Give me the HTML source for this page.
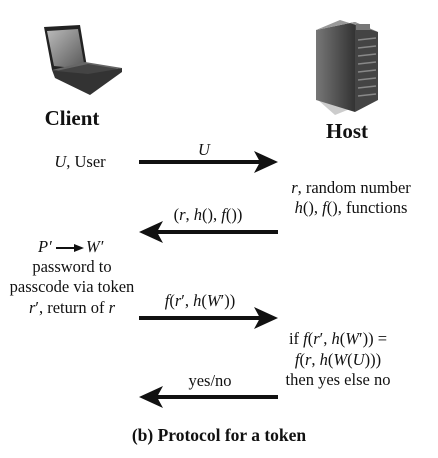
<!DOCTYPE html>
<html><head><meta charset="utf-8"><style>
html,body{margin:0;padding:0;background:#fff;}
svg{display:block;font-family:"Liberation Serif",serif;}
</style></head><body>
<svg width="438" height="458" viewBox="0 0 438 458" xmlns="http://www.w3.org/2000/svg">
<defs>
<linearGradient id="scr" x1="0" y1="0" x2="1" y2="1"><stop offset="0" stop-color="#bbb"/><stop offset="1" stop-color="#555"/></linearGradient>
<linearGradient id="srv" x1="0" y1="0" x2="1" y2="0"><stop offset="0" stop-color="#777"/><stop offset="1" stop-color="#333"/></linearGradient>
</defs>
<!-- laptop -->
<polygon points="44,27 80,25 88,73 52,70" fill="#222"/>
<polygon points="47,31 78,29 85,69 54,66" fill="url(#scr)"/>
<polygon points="52,70 88,73 122,68 85,62" fill="#666"/>
<polygon points="52,70 88,73 122,68 122,72 90,95 55,78" fill="#333"/>
<polygon points="56,71 88,74 118,69 88,64" fill="#444"/>
<!-- server -->
<polygon points="318,100 335,115 377,98 360,90" fill="#ccc"/>
<polygon points="316,30 355,22 355,112 316,100" fill="url(#srv)"/>
<polygon points="355,22 378,32 378,100 355,112" fill="#444"/>
<polygon points="316,30 340,20 378,32 355,22" fill="#999"/>
<g stroke="#888" stroke-width="1.5">
<line x1="358" y1="40" x2="376" y2="38"/><line x1="358" y1="48" x2="376" y2="46"/><line x1="358" y1="56" x2="376" y2="54"/><line x1="358" y1="64" x2="376" y2="62"/><line x1="358" y1="72" x2="376" y2="70"/><line x1="358" y1="80" x2="376" y2="78"/><line x1="358" y1="88" x2="376" y2="86"/><line x1="358" y1="96" x2="376" y2="94"/>
</g>
<rect x="356" y="24" width="14" height="6" fill="#777"/>
<!-- labels -->
<g font-weight="bold" font-size="21" text-anchor="middle" fill="#111">
<text x="72" y="125">Client</text>
<text x="347" y="138">Host</text>
</g>
<g font-size="16.5" fill="#111" text-anchor="middle">
<text x="80" y="167"><tspan font-style="italic">U</tspan>, User</text>
<text x="204" y="155" font-style="italic">U</text>
<text x="351" y="193"><tspan font-style="italic">r</tspan>, random number</text>
<text x="351" y="213"><tspan font-style="italic">h</tspan>(), <tspan font-style="italic">f</tspan>(), functions</text>
<text x="208" y="220">(<tspan font-style="italic">r</tspan>, <tspan font-style="italic">h</tspan>(), <tspan font-style="italic">f</tspan>())</text>
<text x="72" y="272">password to</text>
<text x="72" y="292">passcode via token</text>
<text x="72" y="313"><tspan font-style="italic">r</tspan>′, return of <tspan font-style="italic">r</tspan></text>
<text x="200" y="306"><tspan font-style="italic">f</tspan>(<tspan font-style="italic">r</tspan>′, <tspan font-style="italic">h</tspan>(<tspan font-style="italic">W</tspan>′))</text>
<text x="338" y="344">if <tspan font-style="italic">f</tspan>(<tspan font-style="italic">r</tspan>′, <tspan font-style="italic">h</tspan>(<tspan font-style="italic">W</tspan>′)) =</text>
<text x="338" y="365"><tspan font-style="italic">f</tspan>(<tspan font-style="italic">r</tspan>, <tspan font-style="italic">h</tspan>(<tspan font-style="italic">W</tspan>(<tspan font-style="italic">U</tspan>)))</text>
<text x="338" y="385">then yes else no</text>
<text x="210" y="386">yes/no</text>
</g>
<g font-size="16.5" fill="#111" font-style="italic">
<text x="38" y="252">P′</text>
<text x="86" y="252">W′</text>
</g>
<line x1="56" y1="248" x2="76" y2="248" stroke="#111" stroke-width="2"/>
<polygon points="84,248 74,244 74,252" fill="#111"/>
<!-- arrows -->
<g fill="#111">
<rect x="139" y="160" width="122" height="4"/><polygon points="278,162 254,151 260,162 254,173"/>
<rect x="156" y="230" width="122" height="4"/><polygon points="139,232 163,221 157,232 163,243"/>
<rect x="139" y="316" width="122" height="4"/><polygon points="278,318 254,307 260,318 254,329"/>
<rect x="156" y="395" width="122" height="4"/><polygon points="139,397 163,386 157,397 163,408"/>
</g>
<text x="219" y="441" font-size="17.5" font-weight="bold" text-anchor="middle" fill="#111">(b) Protocol for a token</text>
</svg>
</body></html>
